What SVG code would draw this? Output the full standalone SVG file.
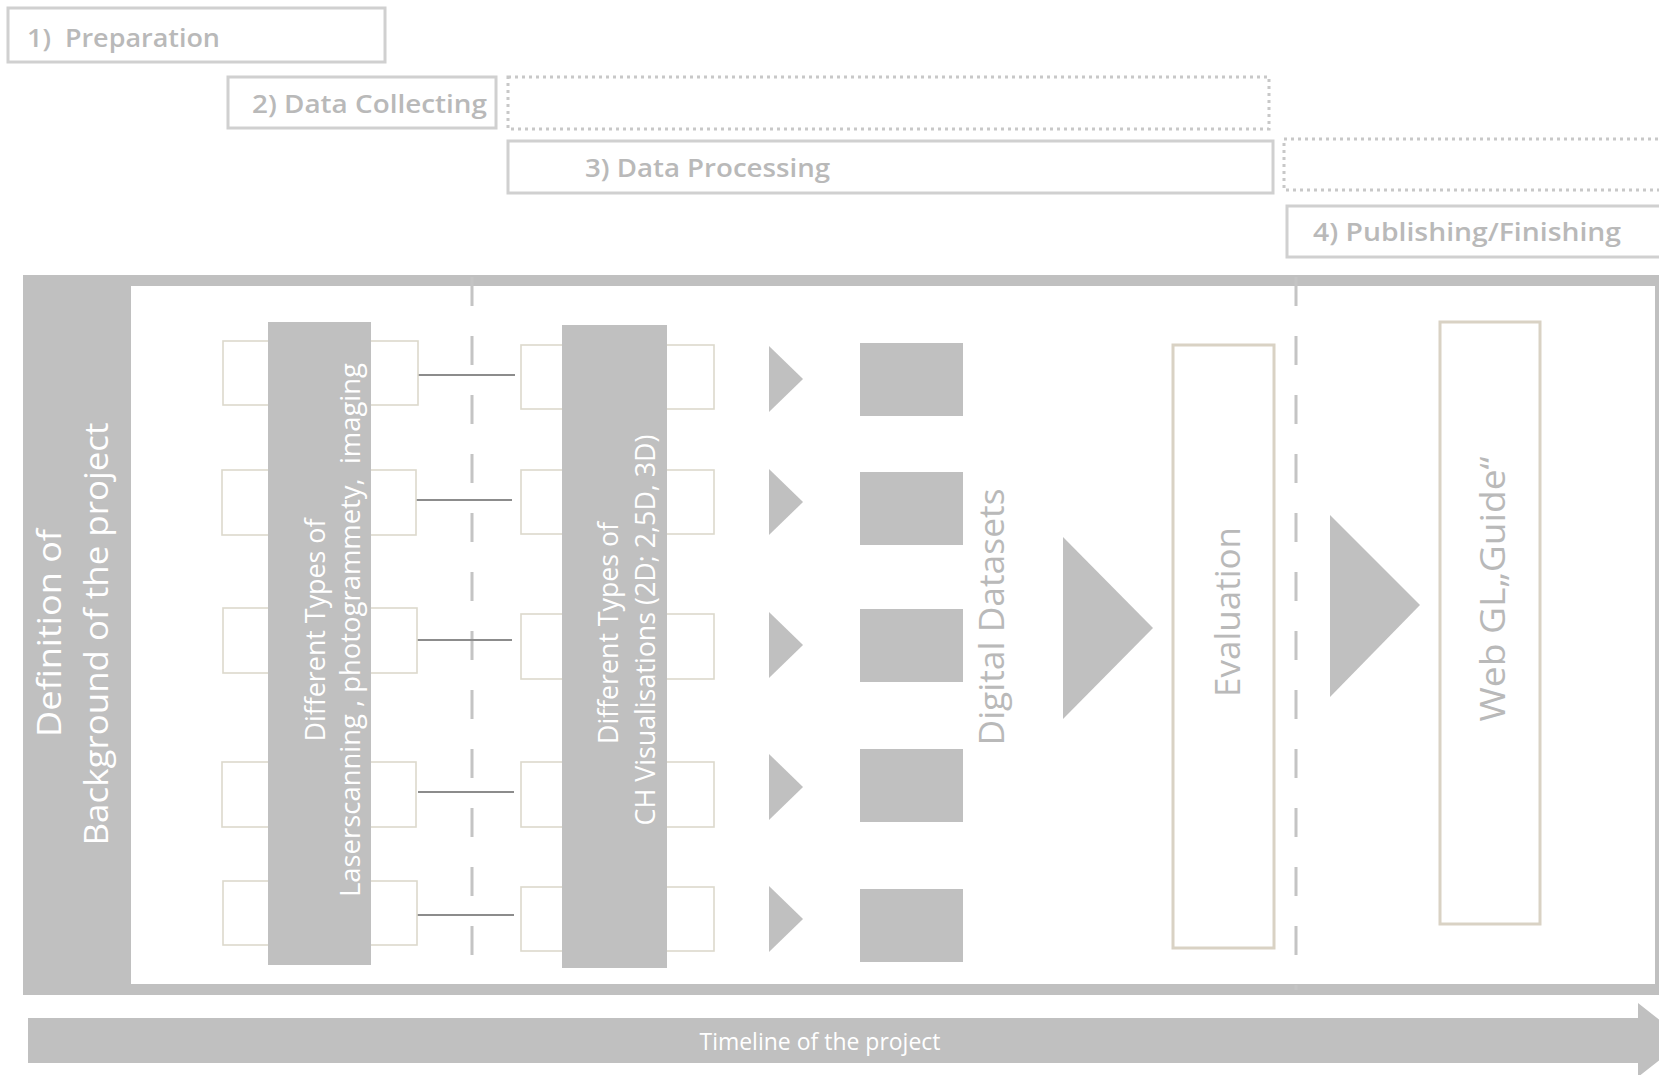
<svg xmlns="http://www.w3.org/2000/svg" width="1659" height="1075" viewBox="0 0 1659 1075">
<style>
.hbox{fill:#ffffff;stroke:#d0d0d0;stroke-width:3}
.dot{fill:none;stroke:#c8c8c8;stroke-width:3;stroke-dasharray:3 4}
.htxt{font-family:"Open Sans","Liberation Sans",sans-serif;font-weight:600;font-size:25px;fill:#b9b9b9;white-space:pre}
.gray{fill:#c0c0c0}
.sbox{fill:#ffffff;stroke:#dcd9cc;stroke-width:1.6}
.tbox{fill:#ffffff;stroke:#d9d2c4;stroke-width:3}
.wt{font-family:"Open Sans","Liberation Sans",sans-serif;fill:#ffffff;font-size:27px}
.gt{font-family:"Open Sans","Liberation Sans",sans-serif;fill:#b9b9b9;font-size:35px}
.conn{stroke:#8c8c8c;stroke-width:2;fill:none}
.dash{stroke:#c4c4c4;stroke-width:3;stroke-dasharray:29 30;fill:none}
</style>
<rect width="1659" height="1075" fill="#ffffff"/>

<g id="phase1">
<rect class="hbox" x="8" y="8" width="377" height="54"/>
<text class="htxt" x="27" y="47" textLength="193" lengthAdjust="spacingAndGlyphs">1)  Preparation</text>
</g>
<g id="phase2">
<rect class="hbox" x="228" y="77" width="268" height="51"/>
<text class="htxt" x="252" y="113" textLength="235" lengthAdjust="spacingAndGlyphs">2) Data Collecting</text>
<rect class="dot" x="508" y="77" width="761" height="52"/>
</g>
<g id="phase3">
<rect class="hbox" x="508" y="141" width="765" height="52"/>
<text class="htxt" x="585" y="177" textLength="245" lengthAdjust="spacingAndGlyphs">3) Data Processing</text>
<rect class="dot" x="1284" y="139" width="390" height="51"/>
</g>
<g id="phase4">
<rect class="hbox" x="1287" y="206" width="390" height="51"/>
<text class="htxt" x="1313" y="241" textLength="308" lengthAdjust="spacingAndGlyphs">4) Publishing/Finishing</text>
</g>

<g id="frame">
<rect class="gray" x="23" y="275" width="1640" height="720"/>
<rect fill="#ffffff" x="131" y="286" width="1524" height="698"/>
<text class="wt" style="font-size:33px" transform="translate(61,633) rotate(-90)" text-anchor="middle" textLength="208" lengthAdjust="spacingAndGlyphs">Definition of</text>
<text class="wt" style="font-size:33px" transform="translate(108,634) rotate(-90)" text-anchor="middle" textLength="423" lengthAdjust="spacingAndGlyphs">Background of the project</text>
</g>

<g id="connectors">
<line class="dash" x1="472" y1="277" x2="472" y2="984"/>
<line class="dash" x1="1296" y1="277" x2="1296" y2="990"/>
<line class="conn" x1="418" y1="375" x2="515" y2="375"/>
<line class="conn" x1="416" y1="500" x2="512" y2="500"/>
<line class="conn" x1="416" y1="640" x2="512" y2="640"/>
<line class="conn" x1="418" y1="792" x2="514" y2="792"/>
<line class="conn" x1="416" y1="915" x2="514" y2="915"/>
</g>

<g id="acquisition">
<rect class="sbox" x="223" y="341" width="195" height="64"/>
<rect class="sbox" x="222" y="470" width="194" height="65"/>
<rect class="sbox" x="223" y="608" width="194" height="65"/>
<rect class="sbox" x="222" y="762" width="194" height="65"/>
<rect class="sbox" x="223" y="881" width="194" height="64"/>
<rect class="gray" x="268" y="322" width="103" height="643"/>
<text class="wt" transform="translate(325,630) rotate(-90)" text-anchor="middle" textLength="223" lengthAdjust="spacingAndGlyphs">Different Types of</text>
<text class="wt" style="white-space:pre" transform="translate(360,630) rotate(-90)" text-anchor="middle" textLength="534" lengthAdjust="spacingAndGlyphs">Laserscanning , photogrammety,  imaging</text>
</g>

<g id="visualisation">
<rect class="sbox" x="521" y="345" width="193" height="64"/>
<rect class="sbox" x="521" y="470" width="193" height="64"/>
<rect class="sbox" x="521" y="614" width="193" height="65"/>
<rect class="sbox" x="521" y="762" width="193" height="65"/>
<rect class="sbox" x="521" y="887" width="193" height="64"/>
<rect class="gray" x="562" y="325" width="105" height="643"/>
<text class="wt" transform="translate(618,633) rotate(-90)" text-anchor="middle" textLength="222" lengthAdjust="spacingAndGlyphs">Different Types of</text>
<text class="wt" transform="translate(655,630) rotate(-90)" text-anchor="middle" textLength="391" lengthAdjust="spacingAndGlyphs">CH Visualisations (2D; 2,5D, 3D)</text>
</g>

<g id="arrows-small">
<polygon class="gray" points="769,346 803,379 769,412"/>
<polygon class="gray" points="769,469 803,502 769,535"/>
<polygon class="gray" points="769,612 803,645 769,678"/>
<polygon class="gray" points="769,754 803,787 769,820"/>
<polygon class="gray" points="769,886 803,919 769,952"/>
</g>

<g id="datasets">
<rect class="gray" x="860" y="343" width="103" height="73"/>
<rect class="gray" x="860" y="472" width="103" height="73"/>
<rect class="gray" x="860" y="609" width="103" height="73"/>
<rect class="gray" x="860" y="749" width="103" height="73"/>
<rect class="gray" x="860" y="889" width="103" height="73"/>
<text class="gt" transform="translate(1004,617) rotate(-90)" text-anchor="middle" textLength="257" lengthAdjust="spacingAndGlyphs">Digital Datasets</text>
</g>

<g id="arrow-big-1">
<polygon class="gray" points="1063,537 1153,628 1063,719"/>
</g>

<g id="evaluation">
<rect class="tbox" x="1173" y="345" width="101" height="603"/>
<text class="gt" transform="translate(1240,612) rotate(-90)" text-anchor="middle" textLength="170" lengthAdjust="spacingAndGlyphs">Evaluation</text>
</g>

<g id="arrow-big-2">
<polygon class="gray" points="1330,515 1420,605 1330,697"/>
</g>

<g id="webgl">
<rect class="tbox" x="1440" y="322" width="100" height="602"/>
<text class="gt" transform="translate(1505,589) rotate(-90)" text-anchor="middle" textLength="265" lengthAdjust="spacingAndGlyphs">Web GL„Guide“</text>
</g>

<g id="timeline">
<polygon class="gray" points="28,1018 1638,1018 1638,1003 1685,1040 1638,1077 1638,1063 28,1063"/>
<text class="wt" style="font-size:23px" x="820" y="1050" text-anchor="middle" textLength="241" lengthAdjust="spacingAndGlyphs">Timeline of the project</text>
</g>
</svg>
